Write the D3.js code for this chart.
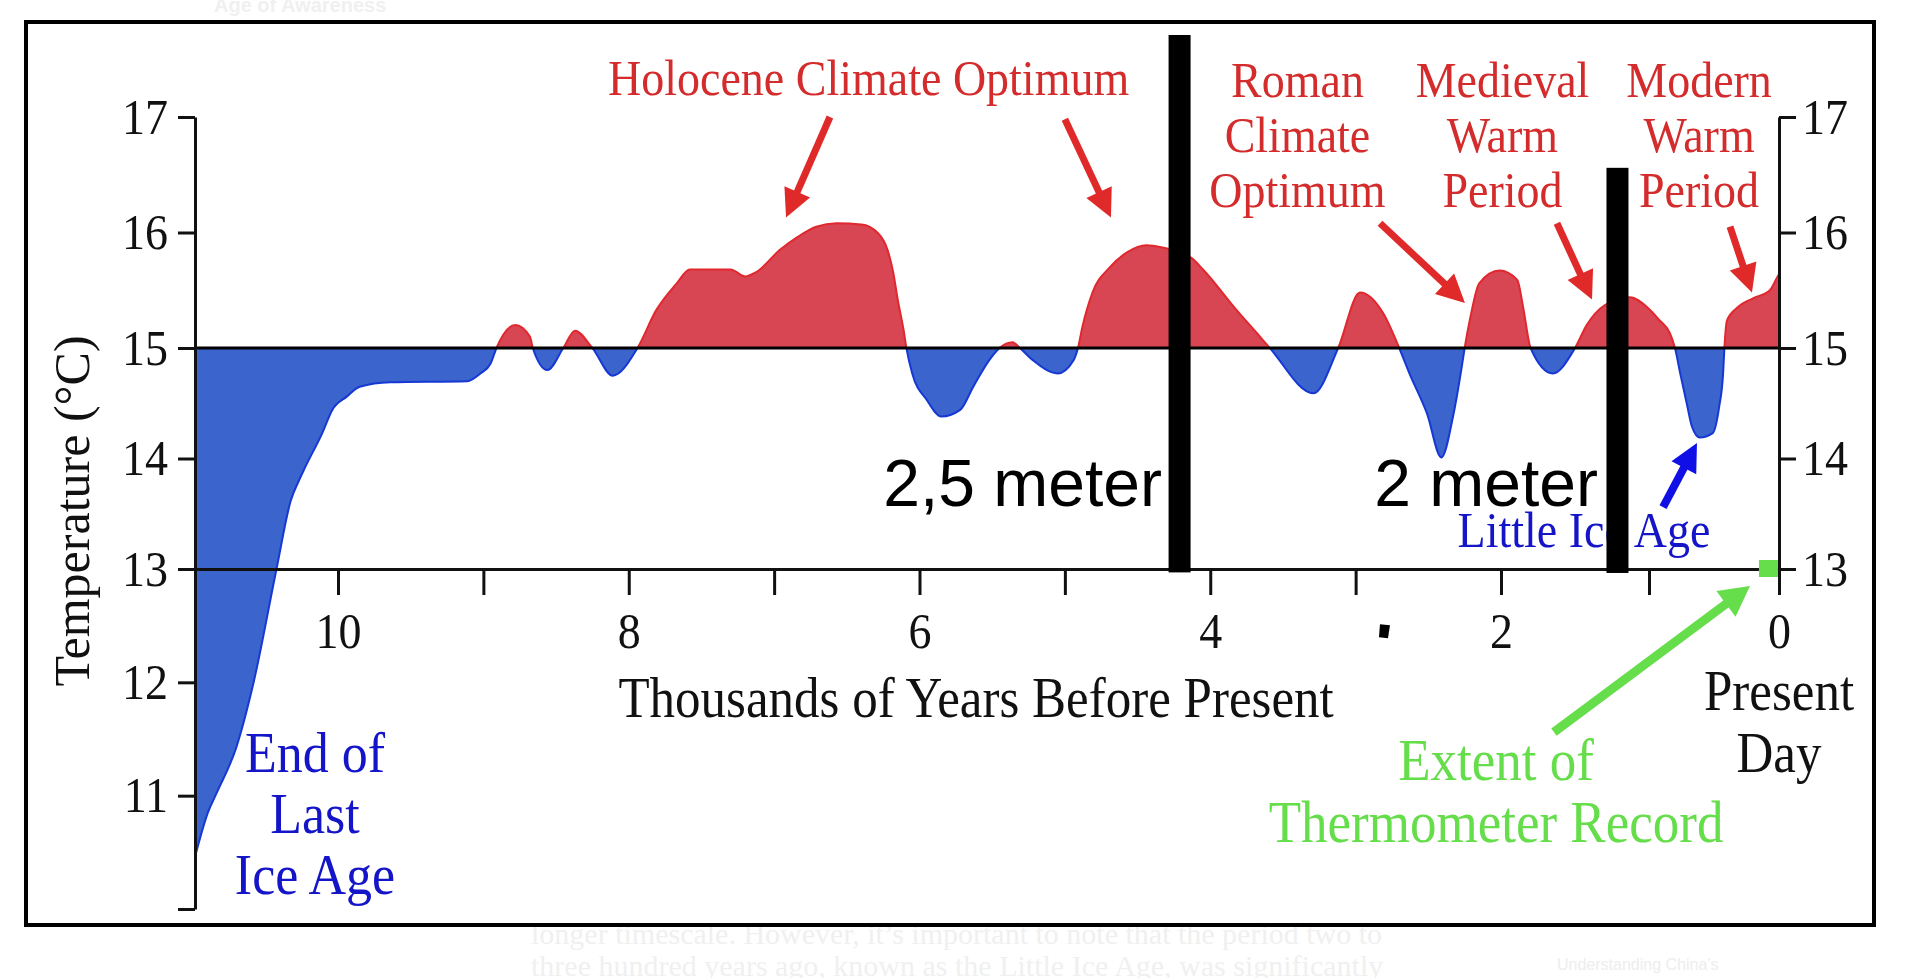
<!DOCTYPE html>
<html>
<head>
<meta charset="utf-8">
<style>
  html, body { margin: 0; padding: 0; background: #fff; }
  svg { display: block; }
</style>
</head>
<body>
<svg width="1920" height="978"></svg>
<script src="https://cdn.jsdelivr.net/npm/d3@7"></script>
<script>
// Temperature reconstruction.
// years = thousands of years before present, temps = degrees C
const years = [11.00, 10.91, 10.85, 10.71, 10.59, 10.43, 10.33, 10.27, 10.23, 10.11,
  10.04, 9.94, 9.85, 9.64, 9.11, 9.02, 8.95, 8.91, 8.78, 8.68,
  8.66, 8.56, 8.45, 8.37, 8.25, 8.11, 7.94, 7.81, 7.67, 7.58,
  7.30, 7.20, 7.12, 6.96, 6.84, 6.71, 6.57, 6.40, 6.29, 6.22,
  6.18, 6.15, 6.11, 6.09, 6.05, 5.95, 5.85, 5.72, 5.63, 5.52,
  5.45, 5.36, 5.31, 5.22, 5.05, 4.94, 4.91, 4.88, 4.81, 4.69,
  4.57, 4.44, 4.33, 4.13, 4.05, 3.82, 3.68, 3.59, 3.29, 3.12,
  2.97, 2.81, 2.70, 2.63, 2.51, 2.41, 2.33, 2.27, 2.25, 2.21,
  2.15, 2.01, 1.89, 1.85, 1.80, 1.65, 1.50, 1.42, 1.30, 1.13,
  1.01, 0.92, 0.84, 0.80, 0.76, 0.71, 0.67, 0.61, 0.51, 0.46,
  0.43, 0.42, 0.40, 0.32, 0.20, 0.07, 0.02, 0.00];
const temps = [10.46, 10.85, 11.02, 11.43, 12.00, 13.00, 13.62, 13.81, 13.92, 14.23,
  14.44, 14.56, 14.65, 14.69, 14.70, 14.77, 14.86, 15.00, 15.20, 15.10,
  15.00, 14.80, 15.00, 15.15, 15.00, 14.75, 15.00, 15.33, 15.56, 15.68,
  15.68, 15.62, 15.66, 15.85, 15.96, 16.05, 16.08, 16.07, 16.00, 15.85,
  15.65, 15.42, 15.16, 15.00, 14.77, 14.53, 14.38, 14.44, 14.65, 14.89,
  15.00, 15.05, 15.00, 14.89, 14.77, 14.89, 15.00, 15.18, 15.48, 15.70,
  15.83, 15.89, 15.87, 15.78, 15.68, 15.33, 15.13, 15.00, 14.59, 15.00,
  15.48, 15.30, 15.00, 14.77, 14.41, 14.01, 14.38, 14.83, 15.00, 15.27,
  15.56, 15.67, 15.59, 15.35, 15.00, 14.77, 15.00, 15.20, 15.37, 15.44,
  15.35, 15.24, 15.13, 15.00, 14.77, 14.50, 14.29, 14.19, 14.23, 14.47,
  14.77, 15.00, 15.24, 15.35, 15.43, 15.50, 15.60, 15.64];

const baseline = 15;
const yTicks = [10, 11, 12, 13, 14, 15, 16, 17];
const yTicksRight = [13, 14, 15, 16, 17];
const xTicks = [0, 1, 2, 3, 4, 5, 6, 7, 8, 9, 10];

// labels: [lines, year, temp]
const redLabels = [
  [["Holocene Climate Optimum"], 6.35, 17.19],
  [["Roman", "Climate", "Optimum"], 3.40, 17.17],
  [["Medieval", "Warm", "Period"], 1.99, 17.17],
  [["Modern", "Warm", "Period"], 0.615, 17.17]
];
// arrows: [tailYear, tailTemp, tipYear, tipTemp]
const redArrows = [
  [6.616, 17.00, 6.918, 16.13],
  [5.00, 16.98, 4.683, 16.13],
  [2.832, 16.08, 2.248, 15.39],
  [1.622, 16.08, 1.385, 15.42],
  [0.377, 16.05, 0.208, 15.48]
];
const blueArrow = [0.892, 13.56, 0.631, 14.14];
const greenArrow = [1.642, 11.56, 0.223, 12.85];
// black marker bars: [year, topTemp, bottomTemp]
const bars = [[4.211, 17.71, 12.97], [1.213, 16.56, 12.965]];
const meterLabels = [["2,5 meter", 4.332, 13.57], ["2 meter", 1.345, 13.57]];

const serif = '"Liberation Serif", "Times New Roman", serif';
const sans = '"Liberation Sans", Arial, sans-serif';
const stretch = 1.1;   // the source picture is a little taller than wide

const data = years.map((d, i) => ({ year: d, temp: temps[i] }));

const svg = d3.select("svg");

const x = d3.scaleLinear()
    .domain([11, 10, 2, 1, 0])
    .range([195, 338, 1501, 1649, 1779]);

const y = d3.scaleLinear()
    .domain([10, 13, 15, 17])
    .range([909, 569, 348, 117]);

// faint page text behind the picture
svg.append("text").attr("x", 214).attr("y", 12)
    .attr("font-family", sans).attr("font-size", 20).attr("font-weight", "bold")
    .attr("fill", "#f0f0f0").text("Age of Awareness");
svg.append("text").attr("x", 531).attr("y", 944)
    .attr("font-family", serif).attr("font-size", 30)
    .attr("fill", "#f0f0f0").text("longer timescale. However, it\u2019s important to note that the period two to");
svg.append("text").attr("x", 531).attr("y", 976)
    .attr("font-family", serif).attr("font-size", 30)
    .attr("fill", "#f0f0f0").text("three hundred years ago, known as the Little Ice Age, was significantly");
svg.append("text").attr("x", 1557).attr("y", 970)
    .attr("font-family", sans).attr("font-size", 16)
    .attr("fill", "#ededed").text("Understanding China\u2019s");

// frame
svg.append("rect")
    .attr("x", 26).attr("y", 22)
    .attr("width", 1848).attr("height", 903)
    .attr("fill", "#fff")
    .attr("stroke", "#000")
    .attr("stroke-width", 4);

// clip regions above / below the 15 degree line
const defs = svg.append("defs");
defs.append("clipPath").attr("id", "above")
  .append("rect")
    .attr("x", x(11)).attr("y", 0)
    .attr("width", x(0) - x(11)).attr("height", y(baseline));
defs.append("clipPath").attr("id", "below")
  .append("rect")
    .attr("x", x(11)).attr("y", y(baseline))
    .attr("width", x(0) - x(11)).attr("height", 978 - y(baseline));

const area = d3.area()
    .x(d => x(d.year))
    .y0(y(baseline))
    .y1(d => y(d.temp))
    .curve(d3.curveMonotoneX);

const line = d3.line()
    .x(d => x(d.year))
    .y(d => y(d.temp))
    .curve(d3.curveMonotoneX);

svg.append("path").datum(data)
    .attr("clip-path", "url(#below)")
    .attr("fill", "#3b64cc")
    .attr("d", area);
svg.append("path").datum(data)
    .attr("clip-path", "url(#above)")
    .attr("fill", "#d84553")
    .attr("d", area);
svg.append("path").datum(data)
    .attr("clip-path", "url(#below)")
    .attr("fill", "none")
    .attr("stroke", "#1638d4")
    .attr("stroke-width", 2)
    .attr("d", line);
svg.append("path").datum(data)
    .attr("clip-path", "url(#above)")
    .attr("fill", "none")
    .attr("stroke", "#e0282e")
    .attr("stroke-width", 2)
    .attr("d", line);

// 15 degree reference line
svg.append("line")
    .attr("x1", x(11)).attr("x2", x(0))
    .attr("y1", y(baseline)).attr("y2", y(baseline))
    .attr("stroke", "#000")
    .attr("stroke-width", 3);

function styleAxis(g) {
  g.attr("font-family", serif).attr("font-size", 46);
  g.select(".domain").attr("stroke", "#111").attr("stroke-width", 3);
  g.selectAll(".tick line").attr("stroke", "#111").attr("stroke-width", 3);
  g.selectAll(".tick text").attr("fill", "#111")
      .attr("transform", `scale(1,${stretch})`);
}

svg.append("g")
    .attr("transform", `translate(${x(11)},0)`)
    .call(d3.axisLeft(y)
        .tickValues(yTicks)
        .tickSize(17)
        .tickPadding(10)
        .tickSizeOuter(0)
        .tickFormat(d => d === 10 ? "" : d))
    .call(styleAxis);

const yRight = d3.scaleLinear()
    .domain([13, 15, 17])
    .range([y(13), y(15), y(17)]);

svg.append("g")
    .attr("transform", `translate(${x(0)},0)`)
    .call(d3.axisRight(yRight)
        .tickValues(yTicksRight)
        .tickSize(17)
        .tickPadding(6)
        .tickSizeOuter(0)
        .tickFormat(d3.format("d")))
    .call(styleAxis);

svg.append("g")
    .attr("transform", `translate(0,${y(13)})`)
    .call(d3.axisBottom(x)
        .tickValues(xTicks)
        .tickSize(26)
        .tickPadding(13)
        .tickSizeOuter(0)
        .tickFormat(d => d % 2 ? "" : d))
    .call(styleAxis);

// axis titles
svg.append("text")
    .attr("transform", `translate(${x(11.741)},${y(13.525)}) rotate(-90)`)
    .attr("text-anchor", "middle")
    .attr("font-family", serif).attr("font-size", 50)
    .attr("fill", "#111")
    .text("Temperature (\u00b0C)");

function addLabel(lines, xv, yv, size, color, lh, family) {
  const t = svg.append("text")
      .attr("transform", `translate(${x(xv)},${y(yv)}) scale(1,${stretch})`)
      .attr("text-anchor", "middle")
      .attr("font-family", family || serif)
      .attr("font-size", size)
      .attr("fill", color);
  lines.forEach((s, i) => {
    t.append("tspan")
        .attr("x", 0)
        .attr("dy", i ? lh / stretch : 0)
        .text(s);
  });
}

addLabel(["Thousands of Years Before Present"], 5.611, 11.694, 51, "#111", 0);

function arrow(a, color, width, headLen, headW) {
  const x1 = x(a[0]), y1 = y(a[1]), x2 = x(a[2]), y2 = y(a[3]);
  const dx = x2 - x1, dy = y2 - y1, len = Math.hypot(dx, dy);
  const ux = dx / len, uy = dy / len;
  const bx = x2 - ux * headLen, by = y2 - uy * headLen;
  svg.append("line")
      .attr("x1", x1).attr("y1", y1)
      .attr("x2", bx + ux * 2).attr("y2", by + uy * 2)
      .attr("stroke", color)
      .attr("stroke-width", width);
  svg.append("polygon")
      .attr("points", [[x2, y2], [bx - uy * headW, by + ux * headW], [bx + uy * headW, by - ux * headW]].join(" "))
      .attr("fill", color);
}

redLabels.forEach(d => addLabel(d[0], d[1], d[2], 46, "#d42c2c", 55));
redArrows.forEach(a => arrow(a, "#e02a2a", 7, 28, 14));

addLabel(["End of", "Last", "Ice Age"], 10.161, 11.209, 52, "#1414c8", 61);
addLabel(["Little Ice Age"], 1.439, 13.199, 46, "#1414c8", 0);
arrow(blueArrow, "#1010e6", 8, 28, 14);

addLabel(["Present", "Day"], 0, 11.756, 51, "#111", 62);
addLabel(["Extent of", "Thermometer Record"], 2.034, 11.138, 53, "#66dd4a", 62);
arrow(greenArrow, "#66dd4a", 9, 30, 16);

// thermometer record marker
svg.append("rect")
    .attr("x", x(0.085) - 9).attr("y", y(13) - 9)
    .attr("width", 19).attr("height", 17)
    .attr("fill", "#66dd4a");

// sea level notes
meterLabels.forEach(d => {
  svg.append("text")
      .attr("x", x(d[1])).attr("y", y(d[2]))
      .attr("text-anchor", "end")
      .attr("font-family", sans).attr("font-size", 66)
      .attr("fill", "#000")
      .text(d[0]);
});

svg.selectAll(".bar")
  .data(bars)
  .join("rect")
    .attr("class", "bar")
    .attr("x", d => x(d[0]) - 11)
    .attr("y", d => y(d[1]))
    .attr("width", 22)
    .attr("height", d => y(d[2]) - y(d[1]))
    .attr("fill", "#000");

// stray mark
svg.append("polygon")
    .attr("points", [[x(2.805) - 4, y(12.45) - 7], [x(2.805) + 6, y(12.45) - 6], [x(2.805) + 4, y(12.45) + 7], [x(2.805) - 5, y(12.45) + 6]].join(" "))
    .attr("fill", "#000");
</script>
</body>
</html>
